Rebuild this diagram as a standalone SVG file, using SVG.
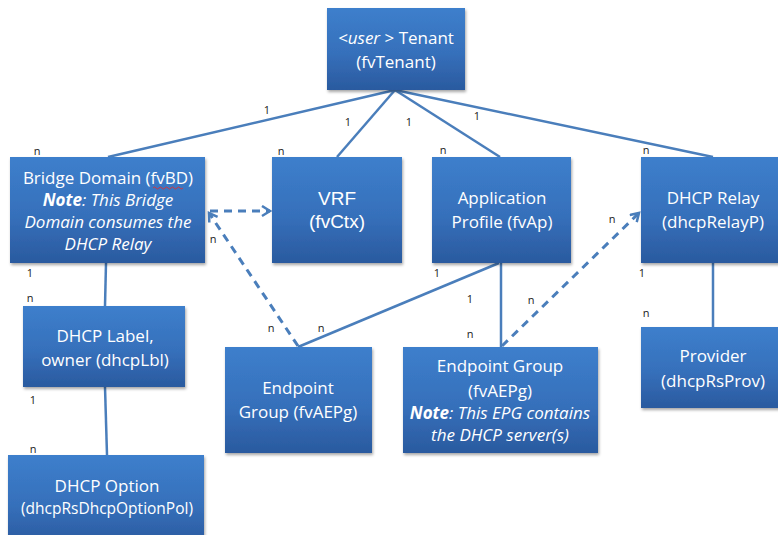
<svg xmlns="http://www.w3.org/2000/svg" width="778" height="535" viewBox="0 0 778 535">
<defs>
<linearGradient id="g" x1="0" y1="0" x2="0" y2="1">
<stop offset="0" stop-color="#3d7fcc"/>
<stop offset="0.55" stop-color="#3670bb"/>
<stop offset="1" stop-color="#2a5a9f"/>
</linearGradient>
<filter id="sh" x="-10%" y="-10%" width="130%" height="130%">
<feDropShadow dx="1" dy="2" stdDeviation="1.5" flood-color="#000" flood-opacity="0.35"/>
</filter>
<marker id="arr" markerUnits="userSpaceOnUse" markerWidth="14" markerHeight="14" refX="9" refY="6" orient="auto">
<path d="M1,1 L9,6 L1,11" fill="none" stroke="#4a7ebb" stroke-width="2.5"/>
</marker>
</defs>
<style>
.box{fill:url(#g);filter:url(#sh)}
.t{font-family:"Open Sans","Liberation Sans",sans-serif;font-size:17px;fill:#fff;text-anchor:middle}
.a{font-family:"Liberation Sans",Arial,sans-serif;font-size:19px;fill:#fff;text-anchor:middle}
.i{font-style:italic}
.b{font-weight:bold}
.l{font-family:"Open Sans","Liberation Sans",sans-serif;font-size:11px;fill:#1a1a1a;text-anchor:middle}
.c{fill:none;stroke:#4a7ebb;stroke-width:2.5}
.d{fill:none;stroke:#4a7ebb;stroke-width:3;stroke-dasharray:8 6}
</style>
<rect width="778" height="535" fill="#fff"/>
<g id="connectors">
<path class="c" d="M395,90 L108,157"/>
<path class="c" d="M395,90 L337,157"/>
<path class="c" d="M395,90 L500,157"/>
<path class="c" d="M395,90 L713,157"/>
<path class="c" d="M106,263 L105,306"/>
<path class="c" d="M105,387 L107,455"/>
<path class="c" d="M499,263 L298,347"/>
<path class="c" d="M501,263 L501,347"/>
<path class="c" d="M713,263 L713,327"/>
<path class="d" d="M210,211 L270,211" marker-end="url(#arr)"/>
<path class="d" d="M298,346 L209,213" marker-end="url(#arr)"/>
<path class="d" d="M502,346 L639,213" marker-end="url(#arr)"/>
</g>
<g id="tenant">
<rect class="box" x="327" y="8" width="138" height="82"/>
<text class="t" x="396" y="44"><tspan class="i">&lt;user</tspan> &gt; Tenant</text>
<text class="t" x="396" y="68">(fvTenant)</text>
</g>
<g id="bridge-domain">
<rect class="box" x="10" y="157" width="195" height="106"/>
<text class="t" x="108" y="184">Bridge Domain (fvBD)</text>
<path d="M153,188 q1.5,-2 3,0 t3,0 t3,0 t3,0 t3,0 t3,0 t3,0 t3,0 t3,0 t3,0" fill="none" stroke="#e03030" stroke-width="0.9"/>
<text class="t i" x="108" y="206"><tspan class="b">Note</tspan>: This Bridge</text>
<text class="t i" x="108" y="228">Domain consumes the</text>
<text class="t i" x="108" y="250">DHCP Relay</text>
</g>
<g id="vrf">
<rect class="box" x="272" y="157" width="130" height="106"/>
<text class="a" x="337" y="205">VRF</text>
<text class="a" x="337" y="228">(fvCtx)</text>
</g>
<g id="app-profile">
<rect class="box" x="432" y="157" width="139" height="106"/>
<text class="t" x="502" y="204">Application</text>
<text class="t" x="502" y="228">Profile (fvAp)</text>
</g>
<g id="dhcp-relay">
<rect class="box" x="641" y="157" width="145" height="106"/>
<text class="t" x="713" y="204">DHCP Relay</text>
<text class="t" x="713" y="228">(dhcpRelayP)</text>
</g>
<g id="dhcp-label">
<rect class="box" x="23" y="306" width="162" height="81"/>
<text class="t" x="105" y="342">DHCP Label,</text>
<text class="t" x="105" y="366">owner (dhcpLbl)</text>
</g>
<g id="dhcp-option">
<rect class="box" x="8" y="455" width="196" height="90"/>
<text class="t" x="107" y="492">DHCP Option</text>
<text class="t" x="107" y="514" style="font-size:15.5px">(dhcpRsDhcpOptionPol)</text>
</g>
<g id="epg-left">
<rect class="box" x="225" y="347" width="147" height="106"/>
<text class="t" x="298" y="394">Endpoint</text>
<text class="t" x="298" y="418">Group (fvAEPg)</text>
</g>
<g id="epg-dhcp">
<rect class="box" x="403" y="347" width="195" height="106"/>
<text class="t" x="500" y="372">Endpoint Group</text>
<text class="t" x="500" y="397">(fvAEPg)</text>
<text class="t i" x="500" y="419"><tspan class="b">Note</tspan>: This EPG contains</text>
<text class="t i" x="500" y="441">the DHCP server(s)</text>
</g>
<g id="provider">
<rect class="box" x="641" y="327" width="145" height="81"/>
<text class="t" x="713" y="362">Provider</text>
<text class="t" x="713" y="387">(dhcpRsProv)</text>
</g>
<g id="labels">
<text class="l" x="267" y="114">1</text>
<text class="l" x="37" y="155">n</text>
<text class="l" x="348" y="126">1</text>
<text class="l" x="281" y="155">n</text>
<text class="l" x="409" y="126">1</text>
<text class="l" x="443" y="154">n</text>
<text class="l" x="477" y="120">1</text>
<text class="l" x="646" y="154">n</text>
<text class="l" x="30" y="277">1</text>
<text class="l" x="30" y="302">n</text>
<text class="l" x="33" y="404">1</text>
<text class="l" x="33" y="453">n</text>
<text class="l" x="213" y="243">n</text>
<text class="l" x="271" y="332">n</text>
<text class="l" x="321" y="332">n</text>
<text class="l" x="437" y="277">1</text>
<text class="l" x="470" y="303">1</text>
<text class="l" x="470" y="338">n</text>
<text class="l" x="531" y="304">n</text>
<text class="l" x="612" y="223">n</text>
<text class="l" x="642" y="277">1</text>
<text class="l" x="646" y="317">n</text>
</g>
</svg>
